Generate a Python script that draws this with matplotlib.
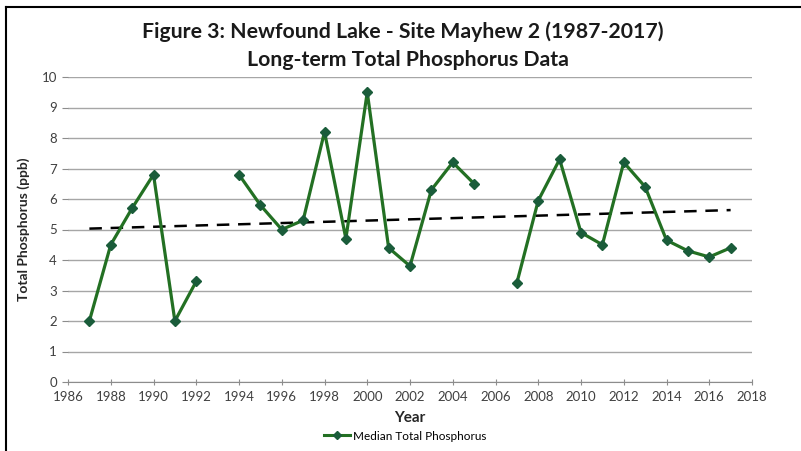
import numpy as np
import matplotlib
matplotlib.use("Agg")
import matplotlib.pyplot as plt
from matplotlib.lines import Line2D

plt.rcParams['font.family'] = ['Lato', 'DejaVu Sans']

years = [1987, 1988, 1989, 1990, 1991, 1992, 1993, 1994, 1995, 1996, 1997, 1998,
         1999, 2000, 2001, 2002, 2003, 2004, 2005, 2006, 2007, 2008, 2009, 2010,
         2011, 2012, 2013, 2014, 2015, 2016, 2017]
tp = [2.0, 4.5, 5.7, 6.8, 2.0, 3.3, np.nan, 6.8, 5.8, 5.0, 5.3, 8.2,
      4.7, 9.5, 4.4, 3.8, 6.3, 7.2, 6.5, np.nan, 3.25, 5.95, 7.3, 4.9,
      4.5, 7.2, 6.4, 4.65, 4.3, 4.1, 4.4]
xticks = list(range(1986, 2019, 2))
yticks = list(range(0, 11))

W, H = 801, 451
fig = plt.figure(figsize=(W / 100, H / 100), dpi=100)
ax = fig.add_axes([68 / W, 1 - 382 / H, (752 - 68) / W, (382 - 77) / H])

x = np.array(years, dtype=float)
y = np.array(tp, dtype=float)
line_c = '#237023'
mark_c = '#1a5c3a'
ax.plot(x, y, color=line_c, lw=2.3, marker='D', ms=5,
        markerfacecolor=mark_c, markeredgecolor=mark_c, zorder=3)

# linear trend
m = ~np.isnan(y)
k, b = np.polyfit(x[m], y[m], 1)
xt = np.array([1987, 2017], dtype=float)
ax.plot(xt, k * xt + b, color='black', lw=1.8, ls=(0, (5, 3.5)), zorder=2)

ax.set_xlim(1986, 2018)
ax.set_ylim(0, 10)
ax.set_xticks(xticks)
ax.set_yticks(yticks)
ax.grid(axis='y', color='#a6a6a6', lw=1.0)
ax.set_axisbelow(True)
for s in ['top', 'right', 'left']:
    ax.spines[s].set_visible(False)
ax.spines['bottom'].set_color('#8c8c8c')
ax.tick_params(axis='x', direction='inout', length=5, color='#8c8c8c',
               labelsize=9.5, labelcolor='#404040', pad=4)
ax.tick_params(axis='y', length=4, color='#8c8c8c', direction='out',
               labelsize=9.5, labelcolor='#404040', pad=4)

ax.set_xlabel('Year', fontsize=11, fontweight='bold', color='#262626', labelpad=6)
ax.set_ylabel('Total Phosphorus (ppb)', fontsize=10, fontweight='bold', color='#262626', labelpad=8)

fig.text(403 / W, 1 - 32 / H, 'Figure 3: Newfound Lake - Site Mayhew 2 (1987-2017)',
         ha='center', va='center', fontsize=15.3, fontweight='bold', color='#1a1a1a')
fig.text(408 / W, 1 - 60 / H, 'Long-term Total Phosphorus Data',
         ha='center', va='center', fontsize=15.3, fontweight='bold', color='#1a1a1a')

handle = Line2D([], [], color=line_c, lw=2.2, marker='D', ms=4,
                markerfacecolor=mark_c, markeredgecolor=mark_c)
fig.legend([handle], ['Median Total Phosphorus'], loc='center',
           bbox_to_anchor=(405 / W, 1 - 436 / H), frameon=False, fontsize=8.5,
           handlelength=2.2, handletextpad=0.3)

# outer frame lines (top and left)
fig.add_artist(Line2D([6 / W, 1], [1 - 7 / H, 1 - 7 / H], color='black', lw=1.5,
                      transform=fig.transFigure))
fig.add_artist(Line2D([6 / W, 6 / W], [0, 1 - 7 / H], color='black', lw=1.5,
                      transform=fig.transFigure))

fig.savefig('out.png', dpi=100)
